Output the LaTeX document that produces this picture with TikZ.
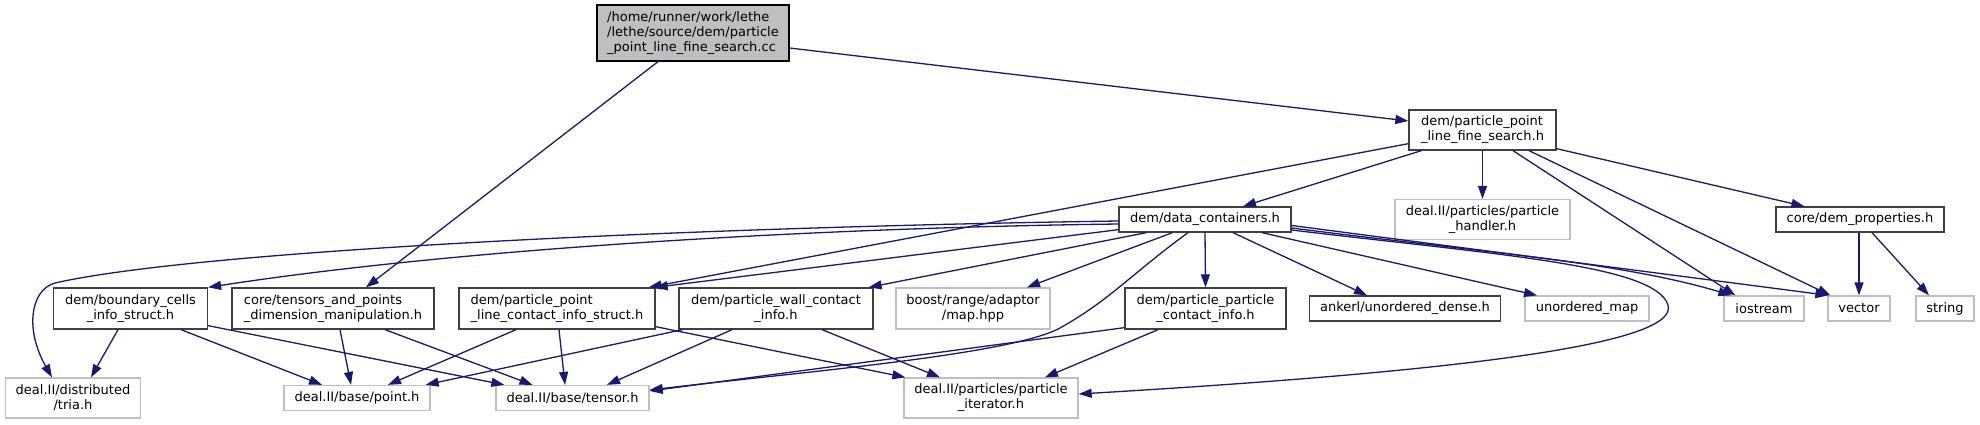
\documentclass[tikz,border=0pt]{standalone}
\usepackage{fontspec}
\setmainfont{DejaVu Sans}
\usetikzlibrary{arrows.meta,calc}
\definecolor{edgec}{HTML}{191970}
\definecolor{docb}{HTML}{404040}
\definecolor{undocb}{HTML}{BFBFBF}
\definecolor{rootf}{HTML}{BFBFBF}
\begin{document}
\begin{tikzpicture}[x=1pt,y=-1pt,
  box/.style={draw, line width=1.3pt, inner sep=0pt, font=\fontsize{13}{15}\selectfont, text=black, fill=white},
  docnode/.style={box, draw=docb},
  undoc/.style={box, draw=undocb},
  rootnode/.style={box, draw=black, fill=rootf},
  lnk/.style={draw=edgec, line width=1.3pt, -{Triangle[length=13pt,width=9pt]}}
]
\fill[white] (0,0) rectangle (1980,424);
\useasboundingbox (0,0) rectangle (1980,424);

% rank 0
\node[rootnode, minimum width=192pt, minimum height=56pt, align=left] (R) at (693,33)
  {/home/runner/work/lethe\\/lethe/source/dem/particle\\\_point\_line\_fine\_search.cc};
% rank 1
\node[docnode, minimum width=147pt, minimum height=40pt, align=left] (FS) at (1482.5,130)
  {dem/particle\_point\\\_line\_fine\_search.h};
% rank 2
\node[docnode, minimum width=172pt, minimum height=25pt] (DC) at (1205,219.5) {dem/data\_containers.h};
\node[undoc, minimum width=175pt, minimum height=40pt, align=center] (PH) at (1482.5,219.5)
  {deal.II/particles/particle\\\_handler.h};
\node[docnode, minimum width=168pt, minimum height=25pt] (DP) at (1860,219.5) {core/dem\_properties.h};
% rank 3
\node[docnode, minimum width=154pt, minimum height=41pt, align=center] (BC) at (130.5,308.5)
  {dem/boundary\_cells\\\_info\_struct.h};
\node[docnode, minimum width=202pt, minimum height=41pt, align=left] (TP) at (333,308.5)
  {core/tensors\_and\_points\\\_dimension\_manipulation.h};
\node[docnode, minimum width=196pt, minimum height=41pt, align=left] (PLC) at (557,308.5)
  {dem/particle\_point\\\_line\_contact\_info\_struct.h};
\node[docnode, minimum width=194pt, minimum height=41pt, align=center] (PW) at (776,308.5)
  {dem/particle\_wall\_contact\\\_info.h};
\node[undoc, minimum width=154pt, minimum height=41pt, align=center] (BO) at (973,308.5)
  {boost/range/adaptor\\/map.hpp};
\node[docnode, minimum width=161pt, minimum height=41pt, align=center] (PP) at (1205.5,308.5)
  {dem/particle\_particle\\\_contact\_info.h};
\node[docnode, minimum width=191pt, minimum height=25pt] (AK) at (1405,308.5) {ankerl/unordered\_dense.h};
\node[undoc, minimum width=124pt, minimum height=25pt] (UM) at (1587,308.5) {unordered\_map};
\node[undoc, minimum width=80pt, minimum height=25pt] (IO) at (1764,308.5) {iostream};
\node[undoc, minimum width=62pt, minimum height=25pt] (VE) at (1859,308.5) {vector};
\node[undoc, minimum width=58pt, minimum height=25pt] (ST) at (1945,308.5) {string};
% rank 4
\node[undoc, minimum width=135pt, minimum height=40pt, align=center] (TR) at (73,398)
  {deal.II/distributed\\/tria.h};
\node[undoc, minimum width=146pt, minimum height=25pt] (PT) at (357,398) {deal.II/base/point.h};
\node[undoc, minimum width=153pt, minimum height=25pt] (TE) at (572.5,398) {deal.II/base/tensor.h};
\node[undoc, minimum width=174pt, minimum height=40pt, align=center] (PI) at (991,398)
  {deal.II/particles/particle\\\_iterator.h};

% edges from root
\draw[lnk] ($(R.east)+(0,15)$) -- ($(FS.west)+(0,-9)$);
\draw[lnk] ($(R.south)+(-35,0)$) -- ($(TP.north)+(33,0)$);
% edges from FS
\draw[lnk] ($(FS.south west)+(13,0)$) -- ($(DC.north)+(38,0)$);
\draw[lnk] (FS.south) -- (PH.north);
\draw[lnk] ($(FS.south west)+(0,-7)$) -- ($(PLC.north east)+(-7,0)$);
\draw[lnk] ($(FS.south)+(30.5,0)$) -- ($(IO.north west)+(12,0)$);
\draw[lnk] ($(FS.south)+(46.5,0)$) -- ($(VE.north west)+(3,0)$);
\draw[lnk] ($(FS.south east)+(0,-2)$) -- ($(DP.north west)+(29,0)$);
% edges from DC
\draw[lnk] ($(DC.west)+(0,4.5)$) .. controls (800,228) and (450,250) .. (BC.north east);
\draw[lnk] ($(DC.west)+(0,1.5)$) .. controls (700,227) and (200,250) .. (55,283)
  .. controls (30,290) and (25,330) .. ($(TR.north)+(-21,0)$);
\draw[lnk] ($(DC.south west)+(0,-3)$) -- ($(PLC.north east)+(-1,0)$);
\draw[lnk] ($(DC.south west)+(28,0)$) -- ($(PW.north east)+(-5,0)$);
\draw[lnk] ($(DC.south west)+(54,0)$) -- ($(BO.north)+(54,0)$);
\draw[lnk] ($(DC.south)+(-17,0)$) .. controls (1130,275) and (1110,300) .. (1060,328)
  .. controls (1010,355) and (800,372) .. ($(TE.east)+(0,-8)$);
\draw[lnk] (DC.south) -- (PP.north);
\draw[lnk] ($(DC.south)+(28,0)$) -- ($(AK.north)+(-38,0)$);
\draw[lnk] ($(DC.south)+(57,0)$) -- ($(UM.north)+(-50,0)$);
\draw[lnk] ($(DC.east)+(0,8.5)$) .. controls (1480,252) and (1620,262) .. ($(IO.north west)+(8,0)$);
\draw[lnk] ($(DC.east)+(0,6)$) -- ($(VE.north west)+(1,0)$);
\draw[lnk] ($(DC.east)+(0,10.5)$) .. controls (1500,255) and (1655,265) .. (1668,305)
  .. controls (1680,345) and (1450,372) .. ($(PI.east)+(0,-4)$);
% edges from DP
\draw[lnk] ($(DP.south)+(-1,0)$) -- (VE.north);
\draw[lnk] ($(DP.south)+(12,0)$) -- ($(ST.north)+(-16,0)$);
% rank 3 -> rank 4
\draw[lnk] ($(BC.south)+(-12.5,0)$) -- ($(TR.north)+(18,0)$);
\draw[lnk] ($(BC.south)+(50.5,0)$) -- ($(PT.north)+(-35,0)$);
\draw[lnk] ($(BC.south east)+(0,-4)$) -- ($(TE.north west)+(9,0)$);
\draw[lnk] ($(TP.south)+(7,0)$) -- ($(PT.north)+(-6,0)$);
\draw[lnk] ($(TP.south)+(52,0)$) -- ($(TE.north)+(-40,0)$);
\draw[lnk] ($(PLC.south)+(-41,0)$) -- ($(PT.north)+(31,0)$);
\draw[lnk] ($(PLC.south)+(2,0)$) -- ($(TE.north)+(-7.5,0)$);
\draw[lnk] ($(PLC.south east)+(0,-3)$) -- ($(PI.north west)+(2,0)$);
\draw[lnk] ($(PW.south west)+(4,0)$) -- ($(PT.north east)+(-5,0)$);
\draw[lnk] ($(PW.south)+(-44,0)$) -- ($(TE.north)+(34.5,0)$);
\draw[lnk] ($(PW.south)+(46,0)$) -- ($(PI.north)+(-51,0)$);
\draw[lnk] ($(PP.south west)+(0,-2)$) -- ($(TE.east)+(0,-7)$);
\draw[lnk] ($(PP.south)+(-47.5,0)$) -- ($(PI.north)+(54,0)$);
\end{tikzpicture}
\end{document}
